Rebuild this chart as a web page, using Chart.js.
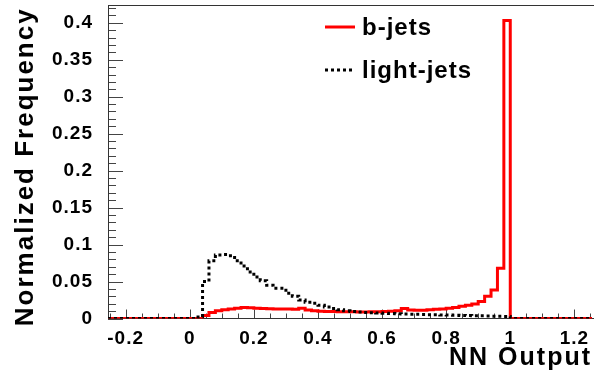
<!DOCTYPE html>
<html>
<head>
<meta charset="utf-8">
<script src="https://cdn.jsdelivr.net/npm/chart.js@4"></script>
<style>
  html, body { margin: 0; padding: 0; background: #fff; }
  #wrap { width: 594px; height: 378px; }
</style>
</head>
<body>
<div id="wrap"><canvas id="chart-nn"></canvas></div>
<script>
// histogram bins are 0.02 wide, the first listed bin starts at 0.02
const binWidth = 0.02;
const firstEdge = 0.02;

const bJets = [
  0.0, 0.004, 0.008, 0.0105, 0.012, 0.013, 0.014, 0.0148, 0.0145, 0.014,
  0.0135, 0.0132, 0.013, 0.013, 0.0128, 0.0125, 0.014, 0.0115, 0.0105, 0.0098,
  0.0095, 0.0093, 0.009, 0.009, 0.009, 0.0088, 0.0088, 0.009, 0.0092, 0.0095,
  0.0098, 0.0105, 0.0135, 0.0115, 0.011, 0.0112, 0.0118, 0.0125, 0.013, 0.014,
  0.015, 0.0165, 0.018, 0.0196, 0.023, 0.030, 0.0385, 0.068, 0.403
];

const lightJets = [
  0.002, 0.050, 0.078, 0.086, 0.0865, 0.085, 0.078, 0.071, 0.063, 0.056,
  0.051, 0.045, 0.041, 0.041, 0.034, 0.030, 0.025, 0.022, 0.0205, 0.018,
  0.0155, 0.0135, 0.012, 0.0105, 0.0095, 0.0088, 0.0082, 0.0078, 0.0073, 0.007,
  0.0066, 0.0063, 0.006, 0.0058, 0.0056, 0.0054, 0.0052, 0.005, 0.0048, 0.0046,
  0.0044, 0.0042, 0.004, 0.0038, 0.0036, 0.0034, 0.0032, 0.003, 0.0028
];

const xRange = [-0.255, 1.255];
const yRange = [0, 0.424];
const xStep = 0.2, xMinor = 0.05;
const yStep = 0.05, yMinor = 0.01;
const yTitle = 'Normalized Frequency';

const FONT = '"Liberation Sans", Arial, sans-serif';

// step points: one at each bin's left edge, closed at the right edge
function histPoints(values) {
  let pts = [{ x: xRange[0], y: 0 }];
  values.forEach((v, i) => pts.push({ x: firstEdge + i * binWidth, y: v }));
  pts.push({ x: firstEdge + values.length * binWidth, y: 0 });
  pts.push({ x: xRange[1], y: 0 });
  return pts;
}

function fmt(v) {
  return String(Math.round(v * 100) / 100);
}

function noPadding(s) {
  s.paddingTop = 0;
  s.paddingBottom = 0;
  s.paddingLeft = 0;
  s.paddingRight = 0;
}

// ROOT style frame, inward tick marks, y title and legend
const frameTicks = {
  id: 'frameTicks',
  beforeDraw(chart) {
    // x title is drawn before the datasets
    chart.ctx.letterSpacing = '2px';
  },
  beforeDatasetsDraw(chart) {
    const { ctx, chartArea: a, scales: { x, y } } = chart;
    ctx.save();
    ctx.strokeStyle = '#444';
    ctx.lineWidth = 1;
    ctx.beginPath();
    for (let k = 0; k * yMinor <= yRange[1]; k++) {
      const py = Math.round(y.getPixelForValue(k * yMinor)) + 0.5;
      ctx.moveTo(a.left, py);
      ctx.lineTo(a.left + (k % 5 === 0 ? 15 : 8), py);
    }
    for (let k = Math.ceil(xRange[0] / xMinor); k * xMinor <= xRange[1]; k++) {
      const px = Math.round(x.getPixelForValue(k * xMinor)) + 0.5;
      ctx.moveTo(px, a.bottom);
      ctx.lineTo(px, a.bottom - (k % 4 === 0 ? 9 : 5));
    }
    ctx.stroke();

    ctx.strokeStyle = '#333';
    ctx.beginPath();
    ctx.moveTo(Math.round(a.left) + 0.5, a.top);
    ctx.lineTo(Math.round(a.left) + 0.5, a.bottom);
    ctx.lineTo(a.right + 2, a.bottom);
    ctx.moveTo(a.left, Math.round(a.top) + 0.5);
    ctx.lineTo(a.right + 2, Math.round(a.top) + 0.5);
    ctx.stroke();
    ctx.restore();
  },
  afterDatasetsDraw(chart) {
    // tick labels come after (ticks.z = 1)
    chart.ctx.letterSpacing = '1px';
  },
  afterDraw(chart) {
    const { ctx, chartArea: a } = chart;

    ctx.save();
    ctx.letterSpacing = '2px';
    ctx.font = 'bold 26px ' + FONT;
    ctx.fillStyle = '#000';
    ctx.textAlign = 'center';
    ctx.textBaseline = 'middle';
    ctx.translate(26, (a.top + a.bottom) / 2 + 5);
    ctx.rotate(-Math.PI / 2);
    ctx.fillText(yTitle, 0, 0);
    ctx.restore();

    const rows = [0, 1];
    ctx.save();
    ctx.letterSpacing = '1px';
    ctx.font = 'bold 24px ' + FONT;
    ctx.fillStyle = '#000';
    ctx.textBaseline = 'middle';
    rows.forEach((di, r) => {
      const ds = chart.data.datasets[di];
      const yy = a.top + 22 + r * 43;
      ctx.beginPath();
      ctx.strokeStyle = ds.borderColor;
      ctx.lineWidth = ds.borderWidth;
      ctx.setLineDash(ds.borderDash || []);
      ctx.moveTo(a.left + 217, yy);
      ctx.lineTo(a.left + 247, yy);
      ctx.stroke();
      ctx.fillText(ds.label, a.left + 254, yy + 1);
    });
    ctx.restore();
  }
};

new Chart(document.getElementById('chart-nn'), {
  type: 'line',
  data: {
    datasets: [{
      label: 'b-jets',
      data: histPoints(bJets),
      borderColor: '#ff0000',
      borderWidth: 3,
      stepped: 'before',
      pointRadius: 0,
      order: 1
    }, {
      label: 'light-jets',
      data: histPoints(lightJets),
      borderColor: '#000000',
      borderWidth: 3,
      borderDash: [3, 3],
      borderCapStyle: 'butt',
      stepped: 'before',
      pointRadius: 0,
      order: 0
    }]
  },
  options: {
    responsive: true,
    maintainAspectRatio: false,
    animation: false,
    devicePixelRatio: 1,
    layout: { padding: { top: 5, right: 2, left: 0, bottom: 0 } },
    plugins: {
      legend: { display: false },
      tooltip: { enabled: false }
    },
    scales: {
      x: {
        type: 'linear',
        min: xRange[0],
        max: xRange[1],
        grid: { display: false },
        border: { display: false },
        ticks: {
          z: 1,
          stepSize: xStep,
          includeBounds: false,
          maxRotation: 0,
          padding: 1,
          color: '#000',
          font: { family: FONT, size: 19, weight: 'bold' },
          callback: (v) => fmt(v)
        },
        title: {
          display: true,
          text: 'NN Output',
          align: 'end',
          color: '#000',
          font: { family: FONT, size: 25, weight: 'bold' },
          padding: { top: 0, bottom: 5 }
        },
        afterFit: (s) => { s.height = 59.5; noPadding(s); }
      },
      y: {
        min: yRange[0],
        max: yRange[1],
        grid: { display: false },
        border: { display: false },
        ticks: {
          z: 1,
          stepSize: yStep,
          includeBounds: false,
          padding: 7,
          color: '#000',
          font: { family: FONT, size: 19, weight: 'bold' },
          callback: (v) => fmt(v)
        },
        title: { display: false },
        afterFit: (s) => { s.width = 108; noPadding(s); }
      }
    }
  },
  plugins: [frameTicks]
});
</script>
</body>
</html>
